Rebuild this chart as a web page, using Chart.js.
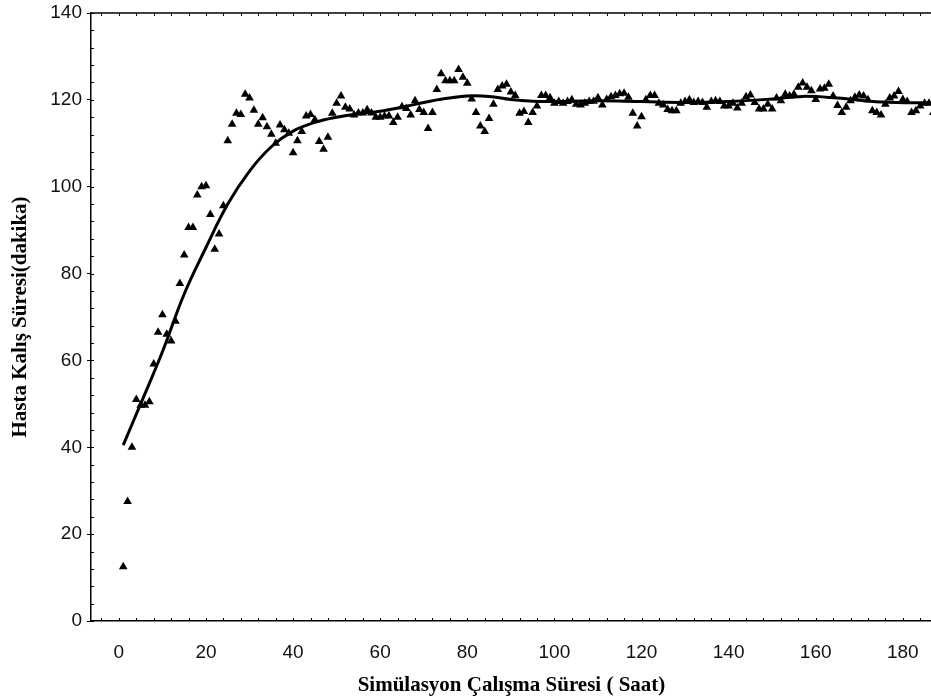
<!DOCTYPE html>
<html>
<head>
<meta charset="utf-8">
<script src="https://cdn.jsdelivr.net/npm/chart.js@4"></script>
<style>
  html, body { margin: 0; background: #fff; overflow: hidden; }
  #wrap { width: 937px; height: 700px; }
</style>
</head>
<body>
<div id="wrap"><canvas id="chartKalis"></canvas></div>
<script>
// saat (x) ve hasta kalis suresi (y)
var hours = [1,2,3,4,5,6,7,8,9,10,11,12,13,14,15,16,17,18,19,20,
  21,22,23,24,25,26,27,28,29,30,31,32,33,34,35,36,37,38,39,40,
  41,42,43,44,45,46,47,48,49,50,51,52,53,54,55,56,57,58,59,60,
  61,62,63,64,65,66,67,68,69,70,71,72,73,74,75,76,77,78,79,80,
  81,82,83,84,85,86,87,88,89,90,91,92,93,94,95,96,97,98,99,100,
  101,102,103,104,105,106,107,108,109,110,111,112,113,114,115,116,117,118,119,120,
  121,122,123,124,125,126,127,128,129,130,131,132,133,134,135,136,137,138,139,140,
  141,142,143,144,145,146,147,148,149,150,151,152,153,154,155,156,157,158,159,160,
  161,162,163,164,165,166,167,168,169,170,171,172,173,174,175,176,177,178,179,180,
  181,182,183,184,185,186,187];

var stayTimes = [12.5,27.5,40,51,49.7,49.7,50.5,59.2,66.5,70.5,66,64.5,69,77.7,84.3,90.6,90.6,98.1,100,100.2,
  93.6,85.6,89.1,95.6,110.6,114.4,116.9,116.6,121.3,120.4,117.6,114.4,115.9,113.8,112.1,110,114.2,113.1,112.3,107.8,
  110.6,112.7,116.3,116.6,115.4,110.4,108.6,111.4,116.9,119.2,120.9,118.3,117.9,116.5,117,117,117.7,117,116,116,
  116.3,116.3,114.8,116,118.4,118,116.5,119.8,117.8,117.1,113.4,117.1,122.4,126,124.4,124.4,124.4,127,125.2,123.8,
  120.2,117.1,114,112.7,115.7,119,122.4,123.2,123.6,121.8,121,116.9,117.3,114.8,117.1,118.6,121,121,120.5,119.2,
  119.6,119.2,119.6,120,119,118.8,119.2,119.6,119.7,120.5,118.8,120.1,120.7,121,121.4,121.5,120.6,116.9,114,116.1,
  120,121,121,119.2,118.8,117.8,117.5,117.5,119.2,119.6,120,119.4,119.6,119.4,118.3,119.6,119.8,119.6,118.6,118.6,
  119.2,118.1,119.2,120.7,121.1,119.4,117.9,117.9,119,117.9,120.4,119.8,121.3,120.9,121.3,122.9,123.9,122.9,122.1,120.1,
  122.5,122.7,123.6,120.9,118.7,117.1,118.3,119.8,120.6,121.1,120.9,120,117.5,117.1,116.5,119,120.4,120.9,121.9,120.1,
  119.6,117.1,117.5,118.6,119.2,119.2,117.1];

// yumusatilmis egri
var fitHours  = [1,5,10,15,20,25,30,35,40,45,50,55,60,65,70,75,80,85,90,95,100,110,120,130,140,150,157,165,175,187];
var fitValues = [40.5,50,62,75.3,86,96,103.6,109.2,112.8,114.8,116,116.8,117.4,118.3,119.4,120.3,120.9,120.8,120.1,119.7,119.6,119.8,119.6,119.4,119.6,120.2,120.8,120.4,119.5,119.3];

var xTicks = [0,20,40,60,80,100,120,140,160,180];
var yTicks = [0,20,40,60,80,100,120,140];

var points = hours.map(function(h, i) { return { x: h, y: stayTimes[i] }; });
var fit = fitHours.map(function(h, i) { return { x: h, y: fitValues[i] }; });

// ic tarafa bakan ara cizgiler + ust cerceve
var minorTicks = {
  id: 'minorTicks',
  afterDraw: function(chart) {
    var ctx = chart.ctx, a = chart.chartArea;
    var xs = chart.scales.x, ys = chart.scales.y;
    ctx.save();
    ctx.strokeStyle = '#000';
    ctx.lineWidth = 1;
    ctx.beginPath();
    for (var v = Math.ceil(xs.min / 4) * 4; v <= xs.max; v += 4) {
      var px = Math.round(xs.getPixelForValue(v)) + 0.5;
      ctx.moveTo(px, a.bottom); ctx.lineTo(px, a.bottom - 3);
      ctx.moveTo(px, a.top); ctx.lineTo(px, a.top + 3);
    }
    for (var w = 0; w <= ys.max; w += 4) {
      var py = Math.round(ys.getPixelForValue(w)) + 0.5;
      ctx.moveTo(a.left, py); ctx.lineTo(a.left + 3, py);
    }
    ctx.stroke();
    ctx.lineWidth = 1.5;
    ctx.beginPath();
    ctx.moveTo(a.left, a.top); ctx.lineTo(a.right, a.top);
    ctx.stroke();
    ctx.restore();
  }
};

const ctx = document.getElementById('chartKalis').getContext('2d');
new Chart(ctx, {
  type: 'scatter',
  data: {
    datasets: [{
      type: 'line',
      data: fit,
      borderColor: '#000',
      borderWidth: 3,
      pointRadius: 0,
      fill: false,
      tension: 0.4
    }, {
      data: points,
      pointStyle: 'triangle',
      pointRadius: 5,
      backgroundColor: '#000',
      borderColor: '#000',
      borderWidth: 0
    }]
  },
  options: {
    responsive: true,
    maintainAspectRatio: false,
    animation: false,
    layout: { padding: { top: 13, right: 0, left: 0, bottom: 0 } },
    plugins: {
      legend: { display: false },
      tooltip: { enabled: false }
    },
    scales: {
      x: {
        type: 'linear',
        min: -6.4,
        max: 186.7,
        afterBuildTicks: function(scale) {
          scale.ticks = xTicks.map(function(v) { return { value: v }; });
        },
        afterFit: function(scale) {
          scale.height = 79;
          scale.paddingLeft = 0;
          scale.paddingRight = 0;
        },
        grid: { display: false },
        border: { display: true, color: '#000', width: 1.5 },
        ticks: {
          color: '#111',
          padding: 12,
          maxRotation: 0,
          font: { family: '"Liberation Sans", Arial, sans-serif', size: 19 }
        },
        title: {
          display: true,
          text: 'Simülasyon Çalışma Süresi ( Saat)',
          color: '#000',
          padding: { top: 0, bottom: 2 },
          font: { family: '"Liberation Serif", "Times New Roman", serif', size: 21, weight: 'bold' }
        }
      },
      y: {
        min: 0,
        max: 140,
        afterBuildTicks: function(scale) {
          scale.ticks = yTicks.map(function(v) { return { value: v }; });
        },
        afterFit: function(scale) {
          scale.width = 91;
          scale.paddingTop = 0;
          scale.paddingBottom = 0;
        },
        grid: {
          drawOnChartArea: false,
          drawTicks: true,
          tickLength: 4,
          color: '#000',
          lineWidth: 1
        },
        border: { display: true, color: '#000', width: 1.5 },
        ticks: {
          color: '#111',
          padding: 5,
          font: { family: '"Liberation Sans", Arial, sans-serif', size: 19 }
        },
        title: {
          display: true,
          text: 'Hasta Kalış Süresi(dakika)',
          color: '#000',
          padding: { top: 8, bottom: 0 },
          font: { family: '"Liberation Serif", "Times New Roman", serif', size: 21, weight: 'bold' }
        }
      }
    }
  },
  plugins: [minorTicks]
});
</script>
</body>
</html>
